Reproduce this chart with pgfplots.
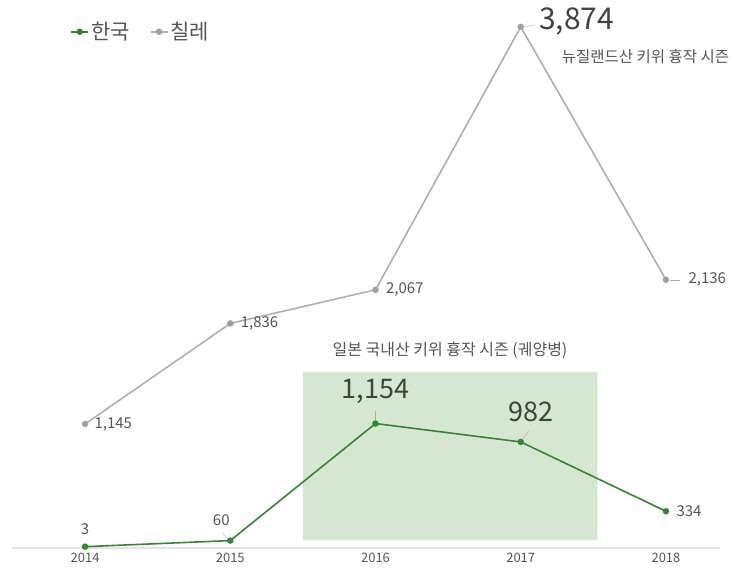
\documentclass[border=0pt]{standalone}
\usepackage{fontspec}
\setmainfont{Noto Sans CJK KR}
\usepackage{pgfplots}
\pgfplotsset{compat=1.18}
\definecolor{kgreen}{RGB}{52,135,48}
\definecolor{cgray}{RGB}{175,175,175}
\definecolor{cmark}{RGB}{160,160,160}
\definecolor{boxgreen}{RGB}{213,231,209}
\definecolor{txt}{RGB}{85,85,85}
\definecolor{bigtxt}{RGB}{62,68,62}
\definecolor{base}{RGB}{228,228,228}
\begin{document}
\begin{tikzpicture}
\useasboundingbox (0pt,0pt) rectangle (734pt,569pt);
\begin{axis}[
  at={(12pt,21pt)}, anchor=south west,
  scale only axis, width=708pt, height=538pt,
  xmin=2013.497, xmax=2018.372,
  ymin=-9.3, ymax=5019,
  axis y line=none, axis x line*=bottom,
  x axis line style={base, line width=1.5pt, -},
  xtick={2014,2015,2016,2017,2018},
  xticklabels={2014,2015,2016,2017,2018},
  major tick length=0pt,
  xticklabel style={font=\fontsize{13}{15}\selectfont, text=txt, yshift=-4pt, inner sep=1pt},
  /pgf/number format/assume math mode=true,
  clip=false,
  legend style={at={(0.078,0.985)}, anchor=north west, draw=none, fill=none,
    font=\fontsize{21}{24}\selectfont, text=txt,
    /tikz/every even column/.append style={column sep=18pt}},
  legend columns=2,
]
\addplot[fill=boxgreen, draw=none, forget plot] coordinates {(2015.50,65) (2017.53,65) (2017.53,1636) (2015.50,1636) (2015.50,65)};
\addplot[kgreen, line width=1.6pt, mark=*, mark size=2.4pt] coordinates {(2014,3) (2015,60) (2016,1154) (2017,982) (2018,334)};
\addlegendentry{한국}
\addlegendimage{cgray, line width=1.6pt, mark=*, mark size=2.4pt, mark options={fill=cmark, draw=cmark}}
\addlegendentry{칠레}
% labels Korea
\node[anchor=south, text=txt, font=\fontsize{15}{17}\selectfont, yshift=8pt] at (axis cs:2014,3) {3};
\node[anchor=south, text=txt, font=\fontsize{15}{17}\selectfont, xshift=-9pt, yshift=11pt] at (axis cs:2015,60) {60};
\draw[txt!50, thin] ([shift={(-2pt,2pt)}]axis cs:2015,60) -- ([shift={(-8pt,7pt)}]axis cs:2015,60);
\node[anchor=south, text=bigtxt, font=\fontsize{27}{30}\selectfont, yshift=16pt] at (axis cs:2016,1154) {1,154};
\draw[txt!50, thin] ([shift={(0pt,4pt)}]axis cs:2016,1154) -- ([shift={(0pt,13pt)}]axis cs:2016,1154);
\node[anchor=south, text=bigtxt, font=\fontsize{27}{30}\selectfont, xshift=10pt, yshift=17pt] at (axis cs:2017,982) {982};
\draw[txt!50, thin] ([shift={(2pt,3pt)}]axis cs:2017,982) -- ([shift={(8pt,11pt)}]axis cs:2017,982);
\node[anchor=west, text=txt, font=\fontsize{15}{17}\selectfont, xshift=7pt] at (axis cs:2018,334) {334};
% annotations
\node[anchor=east, text=txt, font=\fontsize{15.5}{18}\selectfont] at (rel axis cs:1.018,0.9126) {뉴질랜드산 키위 흉작 시즌};
\node[text=txt, font=\fontsize{16}{19}\selectfont] at (rel axis cs:0.6186,0.368) {일본 국내산 키위 흉작 시즌 (궤양병)};
\end{axis}
\begin{axis}[
  at={(12pt,21pt)}, anchor=south west,
  scale only axis, width=708pt, height=538pt,
  xmin=2013.497, xmax=2018.372,
  ymin=292.8, ymax=3990,
  axis lines=none, clip=false,
]
\addplot[cgray, line width=1.6pt, mark=*, mark size=2.4pt, mark options={fill=cmark, draw=cmark}] coordinates {(2014,1145) (2015,1836) (2016,2067) (2017,3874) (2018,2136)};
\node[anchor=west, text=txt, font=\fontsize{15}{17}\selectfont, xshift=6pt, yshift=-1pt] at (axis cs:2014,1145) {1,145};
\node[anchor=west, text=txt, font=\fontsize{15}{17}\selectfont, xshift=7pt] at (axis cs:2015,1836) {1,836};
\node[anchor=west, text=txt, font=\fontsize{15}{17}\selectfont, xshift=7pt] at (axis cs:2016,2067) {2,067};
\node[anchor=west, text=bigtxt, font=\fontsize{30}{33}\selectfont, xshift=15pt, yshift=5pt] at (axis cs:2017,3874) {3,874};
\draw[txt!50, thin] ([shift={(3pt,0pt)}]axis cs:2017,3874) -- ([shift={(14pt,2pt)}]axis cs:2017,3874);
\node[anchor=west, text=txt, font=\fontsize{15}{17}\selectfont, xshift=19pt] at (axis cs:2018,2136) {2,136};
\draw[txt!50, thin] ([shift={(4pt,0pt)}]axis cs:2018,2136) -- ([shift={(14pt,0pt)}]axis cs:2018,2136);
\end{axis}
\end{tikzpicture}
\end{document}
